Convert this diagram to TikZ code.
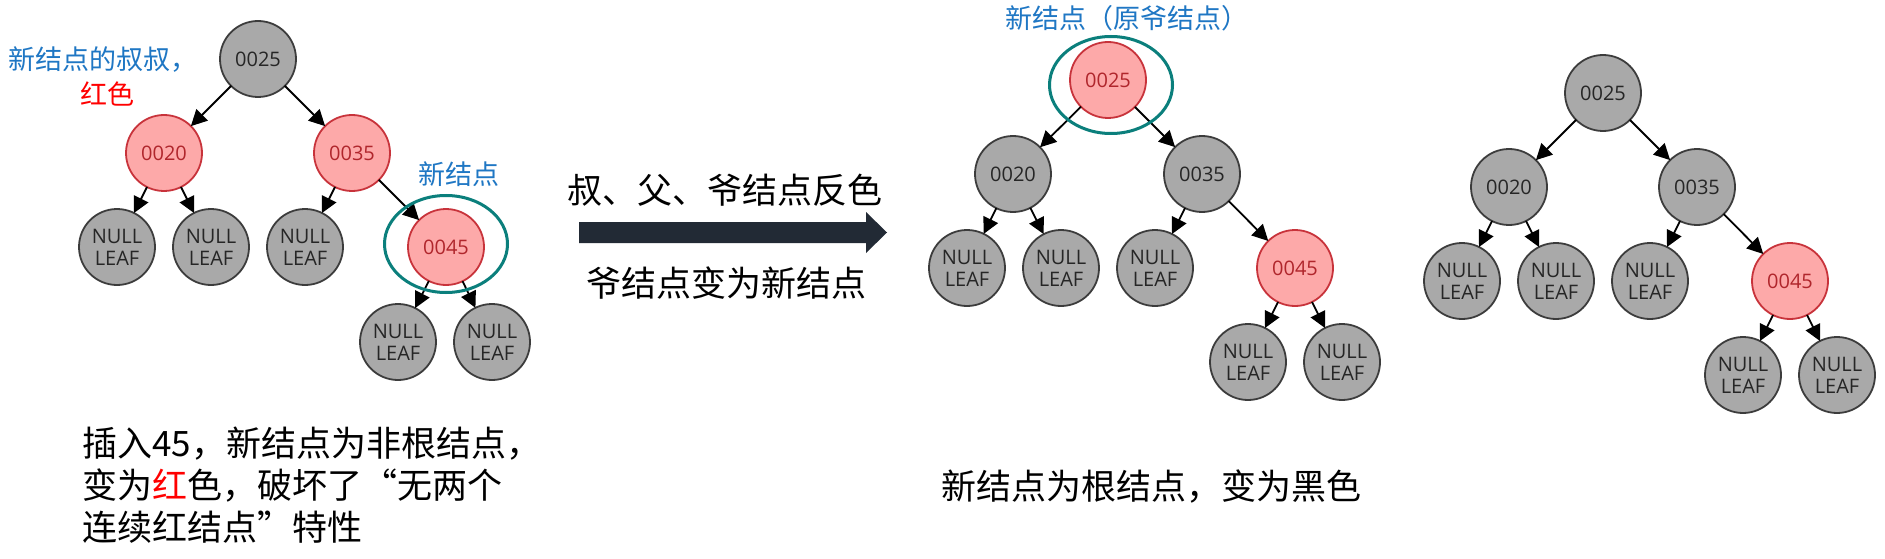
\documentclass[tikz,border=0pt]{standalone}
\usepackage{fontspec}
\newfontfamily\cjk{Noto Sans CJK SC}
\newfontfamily\nodefont{Open Sans}
\usetikzlibrary{arrows.meta,shapes.geometric}
\definecolor{nodegray}{HTML}{A9A9A9}
\definecolor{nodeborder}{HTML}{3C3C3C}
\definecolor{redfill}{HTML}{FDA9A9}
\definecolor{redborder}{HTML}{C8333B}
\definecolor{redtext}{HTML}{B0262C}
\definecolor{ringteal}{HTML}{0B7F7C}
\definecolor{labelblue}{HTML}{1F77C4}
\definecolor{arrowdark}{HTML}{222A35}
\begin{document}
\begin{tikzpicture}[x=1pt,y=-1pt,
  blk/.style={circle, draw=nodeborder, fill=nodegray, line width=1.8pt, minimum size=76pt, inner sep=0pt, outer sep=0pt, font=\nodefont\fontsize{20}{22}\selectfont, text=black!85, align=center},
  rd/.style={blk, draw=redborder, fill=redfill, text=redtext},
  edge/.style={line width=1.8pt, -{Triangle[length=16pt,width=16pt]}},
  ring/.style={ellipse, draw=ringteal, line width=3pt, inner sep=0pt, minimum width=123pt, minimum height=97pt},
  lbl/.style={font=\cjk\fontsize{27}{32}\selectfont, text=labelblue, inner sep=0pt},
  big/.style={font=\cjk\fontsize{35}{42}\selectfont, inner sep=0pt}
]
\useasboundingbox (0,0) rectangle (1885,559);
\fill[white] (0,0) rectangle (1885,559);

% ---------- left tree ----------
\node[blk] (A25) at (258,59) {0025};
\node[rd]  (A20) at (164,153) {0020};
\node[rd]  (A35) at (352,153) {0035};
\node[blk] (AL1) at (117,247) {NULL\\LEAF};
\node[blk] (AL2) at (211,247) {NULL\\LEAF};
\node[blk] (AL3) at (305,247) {NULL\\LEAF};
\node[rd]  (A45) at (446,247) {0045};
\node[blk] (AL4) at (398,342) {NULL\\LEAF};
\node[blk] (AL5) at (492,342) {NULL\\LEAF};
\draw[edge] (A25) -- (A20);
\draw[edge] (A25) -- (A35);
\draw[edge] (A20) -- (AL1);
\draw[edge] (A20) -- (AL2);
\draw[edge] (A35) -- (AL3);
\draw[edge] (A35) -- (A45);
\draw[edge] (A45) -- (AL4);
\draw[edge] (A45) -- (AL5);
\node[ring] (E1) at (446,244) {};

% ---------- middle tree ----------
\node[rd]  (B25) at (1108,80) {0025};
\node[blk] (B20) at (1013,174) {0020};
\node[blk] (B35) at (1202,174) {0035};
\node[blk] (BL1) at (967,268) {NULL\\LEAF};
\node[blk] (BL2) at (1061,268) {NULL\\LEAF};
\node[blk] (BL3) at (1155,268) {NULL\\LEAF};
\node[rd]  (B45) at (1295,268) {0045};
\node[blk] (BL4) at (1248,362) {NULL\\LEAF};
\node[blk] (BL5) at (1342,362) {NULL\\LEAF};
\draw[edge] (B25) -- (B20);
\draw[edge] (B25) -- (B35);
\draw[edge] (B20) -- (BL1);
\draw[edge] (B20) -- (BL2);
\draw[edge] (B35) -- (BL3);
\draw[edge] (B35) -- (B45);
\draw[edge] (B45) -- (BL4);
\draw[edge] (B45) -- (BL5);
\node[ring] (E2) at (1111,85) {};

% ---------- right tree ----------
\node[blk] (C25) at (1603,93) {0025};
\node[blk] (C20) at (1509,187) {0020};
\node[blk] (C35) at (1697,187) {0035};
\node[blk] (CL1) at (1462,281) {NULL\\LEAF};
\node[blk] (CL2) at (1556,281) {NULL\\LEAF};
\node[blk] (CL3) at (1650,281) {NULL\\LEAF};
\node[rd]  (C45) at (1790,281) {0045};
\node[blk] (CL4) at (1743,375) {NULL\\LEAF};
\node[blk] (CL5) at (1837,375) {NULL\\LEAF};
\draw[edge] (C25) -- (C20);
\draw[edge] (C25) -- (C35);
\draw[edge] (C20) -- (CL1);
\draw[edge] (C20) -- (CL2);
\draw[edge] (C35) -- (CL3);
\draw[edge] (C35) -- (C45);
\draw[edge] (C45) -- (CL4);
\draw[edge] (C45) -- (CL5);

% ---------- block arrow ----------
\fill[arrowdark] (579,222) -- (866,222) -- (866,212) -- (887,232.5) -- (866,253) -- (866,243) -- (579,243) -- cycle;

% ---------- texts ----------
\node[lbl, anchor=west] (L1) at (8,60) {新结点的叔叔，};
\node[lbl, text=red] (L2) at (107,94) {红色};
\node[lbl] (L3) at (459,174) {新结点};
\node[lbl, anchor=west] (L4) at (1005,18) {新结点（原爷结点）};
\node[big] (T1) at (725,190) {叔、父、爷结点反色};
\node[big] (T2) at (726,283) {爷结点变为新结点};
\node[big, anchor=west, align=left] (T3) at (82,485) {插入45，新结点为非根结点，\\变为{\color{red}红}色，破坏了“无两个\\连续红结点”特性};
\node[big] (T4) at (1151,487) {新结点为根结点，变为黑色};
\end{tikzpicture}
\end{document}
